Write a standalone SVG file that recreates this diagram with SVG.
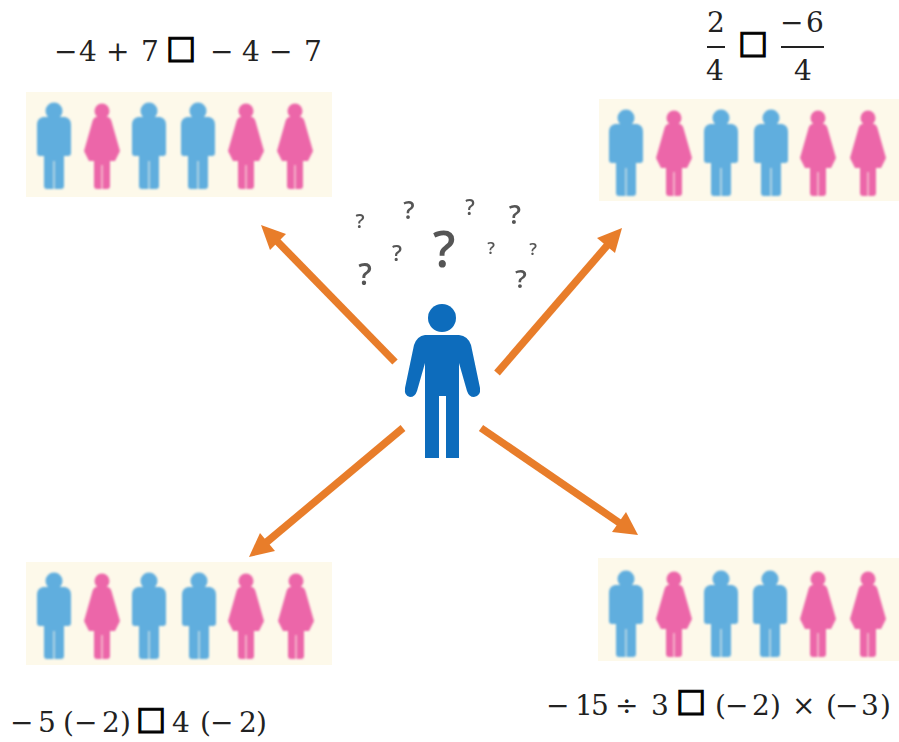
<svg xmlns="http://www.w3.org/2000/svg" width="899" height="742" viewBox="0 0 899 742">
<style>
.panel{fill:#fdf9ea}
.man{fill:#60aede}
.woman{fill:#ec66a9}
.eq{font-family:"DejaVu Serif","Liberation Serif",serif;font-size:28px;fill:#222}
.bx{font-family:"DejaVu Sans",sans-serif;font-size:32px;fill:#000;stroke:#000;stroke-width:1.2px}
.q{font-family:"Open Sans","Liberation Sans",sans-serif;fill:#555;font-weight:600;text-anchor:middle}
.arrow{stroke:#e87d2c;stroke-width:7.5;fill:none}
.head{fill:#e87d2c}
.soft{filter:url(#soft)}
.softer{filter:url(#softer)}
</style>
<defs>
<filter id="soft" x="-5%" y="-5%" width="110%" height="110%"><feGaussianBlur stdDeviation="0.9"/></filter>
<filter id="softer" x="-5%" y="-5%" width="110%" height="110%"><feGaussianBlur stdDeviation="0.45"/></filter>
<g id="m"><circle cx="0" cy="8" r="8.5"/><path d="M-11 14H11Q17 15 17 22V50Q17 53 14 53H10V83Q10 86 7 86H0.5V58H-0.5V86H-7Q-10 86 -10 83V53H-14Q-17 53 -17 50V22Q-17 15 -11 14Z"/></g>
<g id="w"><circle cx="0" cy="8" r="7.5"/><path d="M-6 14H6Q9 15 10 20L18 48L13 58H8V83Q8 86 5 86H0.5V62H-0.5V86H-5Q-8 86 -8 83V58H-13L-18 48L-10 20Q-9 15 -6 14Z"/></g>
</defs>
<rect width="899" height="742" fill="#fff"/>

<g id="connectors" class="softer">
<line class="arrow" x1="395" y1="362" x2="272" y2="236"/><polygon class="head" points="261,225 286,234 270,250"/>
<line class="arrow" x1="497" y1="373" x2="611" y2="241"/><polygon class="head" points="622,228 615,253 597,238"/>
<line class="arrow" x1="403" y1="428" x2="262" y2="546"/><polygon class="head" points="249,557 260,533 275,551"/>
<line class="arrow" x1="481" y1="428" x2="624" y2="526"/><polygon class="head" points="638,535 612,532 626,512"/>
</g>

<g id="center-person">
<g class="softer">
<circle cx="442" cy="318" r="14" fill="#0a6cbc"/>
<path fill="#0a6cbc" d="M425 335H459Q468 336 471 345L480 388Q481 396 474 397Q469 397 467 391L459 363V458H446V396H439V458H425V363L417 391Q415 397 410 397Q404 396 405 388L414 345Q417 336 425 335Z"/>
</g>
<g class="softer">
<text class="q" x="444" y="267" font-size="50">?</text>
<text class="q" x="360" y="228" font-size="20">?</text>
<text class="q" x="409" y="219" font-size="25">?</text>
<text class="q" x="470" y="215" font-size="21">?</text>
<text class="q" x="515" y="224" font-size="27">?</text>
<text class="q" x="397" y="261" font-size="22">?</text>
<text class="q" x="365" y="285" font-size="30">?</text>
<text class="q" x="491" y="254" font-size="17">?</text>
<text class="q" x="533" y="255" font-size="17">?</text>
<text class="q" x="521" y="288" font-size="26">?</text>
</g>
</g>

<g id="group-top-left">
<rect class="panel" x="26" y="92" width="306" height="105"/>
<g class="soft">
<use href="#m" class="man" x="54" y="103"/><use href="#w" class="woman" x="102" y="103"/><use href="#m" class="man" x="149" y="103"/><use href="#m" class="man" x="198" y="103"/><use href="#w" class="woman" x="246" y="103"/><use href="#w" class="woman" x="295" y="103"/>
</g>
<text class="eq" y="61" x="54 79 100 106 130 141">−4 + 7</text>
<text class="bx" x="166" y="58">□</text>
<text class="eq" y="61" x="210 235 242 260 269 295 304">− 4 − 7</text>
</g>

<g id="group-top-right">
<rect class="panel" x="599" y="99" width="300" height="102"/>
<g class="soft">
<use href="#m" class="man" x="626" y="110"/><use href="#w" class="woman" x="674" y="110"/><use href="#m" class="man" x="721" y="110"/><use href="#m" class="man" x="771" y="110"/><use href="#w" class="woman" x="818" y="110"/><use href="#w" class="woman" x="868" y="110"/>
</g>
<text class="eq" x="707" y="32">2</text>
<rect x="707" y="46" width="18" height="2" fill="#222"/>
<text class="eq" x="706" y="80">4</text>
<text class="bx" x="738" y="53">□</text>
<text class="eq" y="32" x="780 806">−6</text>
<rect x="781" y="46" width="43" height="2" fill="#222"/>
<text class="eq" x="794" y="80">4</text>
</g>

<g id="group-bottom-left">
<rect class="panel" x="26" y="562" width="306" height="103"/>
<g class="soft">
<use href="#m" class="man" x="54" y="573"/><use href="#w" class="woman" x="102" y="573"/><use href="#m" class="man" x="149" y="573"/><use href="#m" class="man" x="199" y="573"/><use href="#w" class="woman" x="246" y="573"/><use href="#w" class="woman" x="296" y="573"/>
</g>
<text class="eq" y="732" x="10 38 55 63 74 102 120">−5 (−2)</text>
<text class="bx" x="136" y="729">□</text>
<text class="eq" y="732" x="172 192 200 210 239 256">4 (−2)</text>
</g>

<g id="group-bottom-right">
<rect class="panel" x="598" y="558" width="301" height="103"/>
<g class="soft">
<use href="#m" class="man" x="626" y="571"/><use href="#w" class="woman" x="674" y="571"/><use href="#m" class="man" x="721" y="571"/><use href="#m" class="man" x="770" y="571"/><use href="#w" class="woman" x="818" y="571"/><use href="#w" class="woman" x="868" y="571"/>
</g>
<text class="eq" y="715" x="546 575 591 608 615 640 651">−15 ÷ 3</text>
<text class="bx" x="676" y="711">□</text>
<text class="eq" y="715" x="715 725 752 770 784 792 817 826 835 861 880">(−2) × (−3)</text>
</g>
</svg>
